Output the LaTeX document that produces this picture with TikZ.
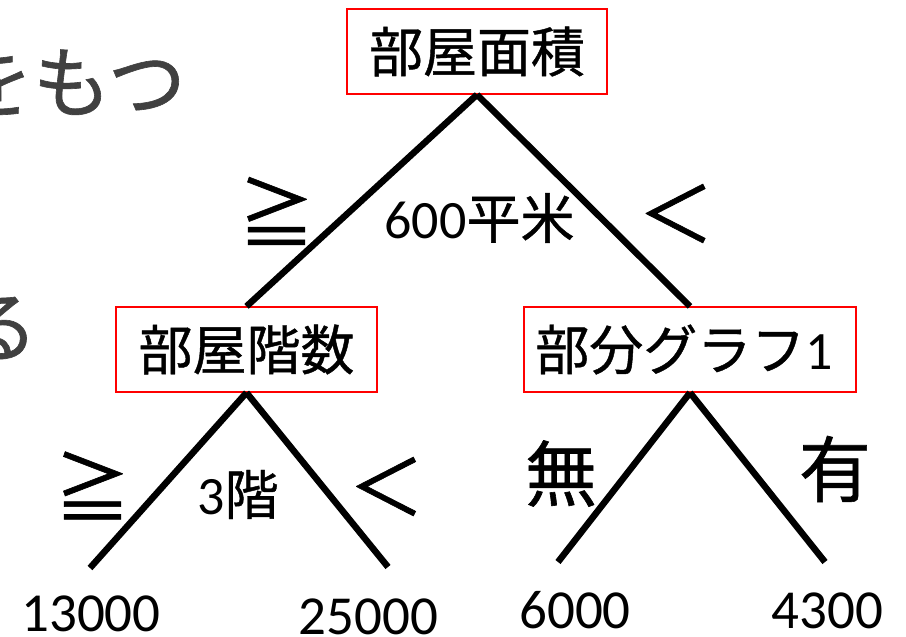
\documentclass[tikz,border=0pt]{standalone}
\usepackage{fontspec}
\setmainfont{Carlito}
\newfontfamily\jp[FakeBold=0.8]{Noto Sans CJK JP}
\definecolor{slidegray}{HTML}{404040}
\colorlet{boxred}{red}
\tikzstyle{tbox}=[draw=boxred,line width=1.3pt,inner sep=0pt,minimum height=85pt,font=\fontsize{54}{54}\selectfont\jp]
\tikzstyle{br}=[line width=6.5pt]
\tikzstyle{lbl}=[inner sep=0pt,font=\fontsize{54}{54}\selectfont]
\tikzstyle{rel}=[inner sep=0pt,font=\fontsize{76}{76}\selectfont\jp]
\tikzstyle{leaf}=[inner sep=0pt,font=\fontsize{55}{55}\selectfont]
\begin{document}
\begin{tikzpicture}[x=1pt,y=-1pt]
  \useasboundingbox (0,0) rectangle (906,637);
  \clip (0,0) rectangle (906,637);
  % text of the slide behind
  \node[anchor=east,inner sep=0pt,text=slidegray,font=\fontsize{78}{78}\selectfont\jp] (bg1) at (186,82) {をもつ};
  \node[anchor=east,inner sep=0pt,text=slidegray,font=\fontsize{78}{78}\selectfont\jp] (bg2) at (38,328) {る};
  % tree
  \node[tbox,minimum width=260pt] (r) at (477,51.5) {部屋面積};
  \node[tbox,minimum width=261pt] (a) at (246.5,349.5) {部屋階数};
  \node[tbox,minimum width=332pt] (b) at (690,349.5) {\hspace*{-12pt}部分グラフ{\rmfamily 1}};
  \coordinate (a1) at (90,568);
  \coordinate (a2) at (388,567);
  \coordinate (b1) at (558,562);
  \coordinate (b2) at (825,562);
  \draw[br] (r.south) -- (a.north);
  \draw[br] (r.south) -- (b.north);
  \draw[br] (a.south) -- (a1);
  \draw[br] (a.south) -- (a2);
  \draw[br] (b.south) -- (b1);
  \draw[br] (b.south) -- (b2);
  % conditions
  \node[rel] (ge) at (276.5,211) {≧};
  \node[lbl] (c1) at (479.5,218) {600{\jp 平米}};
  \node[rel] (lt) at (676,213.5) {＜};
  \node[rel] (ge2) at (92.5,485.5) {≧};
  \node[lbl] (c2) at (238,494.5) {3{\jp 階}};
  \node[rel] (lt2) at (386.5,486.5) {＜};
  \node[rel,font=\fontsize{72}{72}\selectfont\jp] (no) at (561,473.5) {無};
  \node[rel,font=\fontsize{72}{72}\selectfont\jp] (yes) at (835,469) {有};
  % leaves
  \node[leaf] (v1) at (91,613.5) {13000};
  \node[leaf] (v2) at (368.5,617) {25000};
  \node[leaf] (v3) at (575,610.5) {6000};
  \node[leaf] (v4) at (827.5,610.5) {4300};
\end{tikzpicture}
\end{document}
